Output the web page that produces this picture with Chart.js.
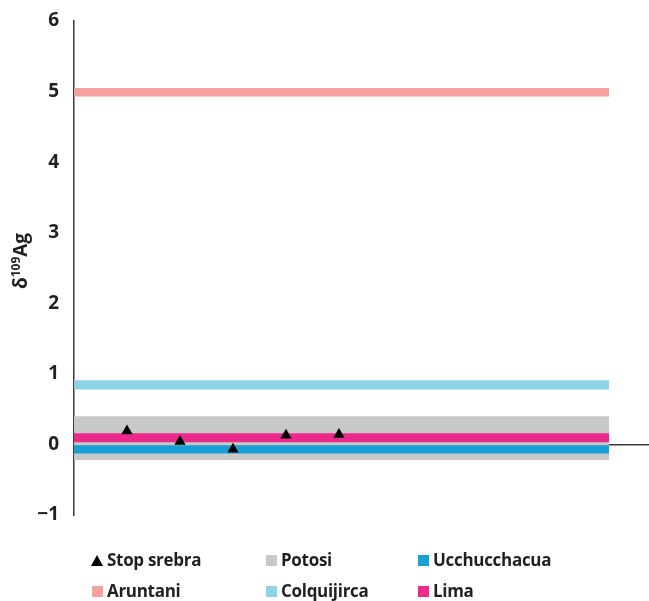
<!DOCTYPE html>
<html>
<head>
<meta charset="utf-8">
<script src="https://cdn.jsdelivr.net/npm/chart.js@4.4.1/dist/chart.umd.min.js"></script>
<style>
  html, body { margin: 0; padding: 0; background: #fff; }
  #wrap { position: relative; width: 649px; height: 601px; overflow: hidden; }
  #chart { position: absolute; left: 0; top: 0; }
  .lg { position: absolute; font: bold 17px "Open Sans", sans-serif; color: #231f20; white-space: nowrap; line-height: 20px; letter-spacing: -0.3px; }
  .sw { position: absolute; width: 11px; height: 11px; }
  .tri { position: absolute; width: 0; height: 0; border-left: 6.5px solid transparent; border-right: 6.5px solid transparent; border-bottom: 11px solid #000; }
</style>
</head>
<body>
<div id="wrap">
  <canvas id="chart" width="649" height="601"></canvas>
</div>
<script>
// --- données ---
const sampleX = [1, 2, 3, 4, 5];
const stopSrebra = [0.19, 0.04, -0.07, 0.13, 0.14];

const bandNames = ['Potosi', 'Lima', 'Ucchucchacua', 'Aruntani', 'Colquijirca'];
const bandLow   = [-0.22, 0.03, -0.13, 4.93, 0.78];
const bandHigh  = [0.40, 0.16, -0.01, 5.05, 0.91];
const bandStart = 0;
const bandEnd = 10.1;

const yMin = -1;
const yMax = 6;
const xMax = 10.85;

// --- styles ---
const INK = '#231f20';
const AXIS = '#3a3a3a';
const FONT = '"Open Sans", sans-serif';
const COLORS = {
  'Stop srebra': '#000000',
  Potosi: '#c8c8c8',
  Lima: '#ec2a8c',
  Ucchucchacua: '#189fd6',
  Aruntani: '#f5a19d',
  Colquijirca: '#8dd3ec',
};

const datasets = [{
  type: 'scatter',
  label: 'Stop srebra',
  data: sampleX.map((x, i) => ({ x, y: stopSrebra[i] })),
  pointStyle: 'triangle',
  pointRadius: 6.5,
  backgroundColor: COLORS['Stop srebra'],
  borderColor: COLORS['Stop srebra'],
  borderWidth: 0,
  order: 0,
}];

bandNames.forEach((name, i) => {
  datasets.push({
    type: 'line',
    label: name,
    data: [{ x: bandStart, y: bandHigh[i] }, { x: bandEnd, y: bandHigh[i] }],
    fill: { value: bandLow[i] },
    backgroundColor: COLORS[name],
    borderWidth: 0,
    pointRadius: 0,
    order: name === 'Potosi' ? 9 : 2,
  });
});

// titre de l'axe Y : δ + 109 en exposant + Ag
const yTitle = {
  id: 'yTitle',
  afterDraw(chart) {
    const { ctx } = chart;
    ctx.save();
    ctx.translate(27, 261);
    ctx.rotate(-Math.PI / 2);
    ctx.fillStyle = INK;
    ctx.textBaseline = 'alphabetic';
    const big = 'bold 19px ' + FONT;
    const small = 'bold 12px ' + FONT;
    ctx.font = big;
    const w1 = ctx.measureText('δ').width;
    const w3 = ctx.measureText('Ag').width;
    ctx.font = small;
    const w2 = ctx.measureText('109').width;
    let x = -(w1 + w2 + w3) / 2;
    ctx.font = big;
    ctx.fillText('δ', x, 0);
    x += w1;
    ctx.font = small;
    ctx.fillText('109', x, -7);
    x += w2;
    ctx.font = big;
    ctx.fillText('Ag', x, 0);
    ctx.restore();
  },
};

// pas de marge auto autour des axes : la zone du graphe suit layout.padding
function noScalePadding(scale) {
  scale.paddingTop = 0;
  scale.paddingBottom = 0;
  scale.paddingLeft = 0;
  scale.paddingRight = 0;
}

const chart = new Chart(document.getElementById('chart'), {
  data: { datasets },
  options: {
    responsive: false,
    animation: false,
    layout: { autoPadding: false, padding: { top: 21, bottom: 86, left: 0, right: 0 } },
    plugins: { legend: { display: false }, tooltip: { enabled: false } },
    scales: {
      x: {
        type: 'linear',
        min: 0,
        max: xMax,
        position: { y: 0 },
        z: 1,
        afterFit: noScalePadding,
        grid: { display: false, drawTicks: false },
        ticks: { display: false },
        border: { display: true, color: AXIS, width: 1.5 },
      },
      y: {
        type: 'linear',
        min: yMin,
        max: yMax,
        z: 1,
        afterFit(scale) {
          noScalePadding(scale);
          scale.width = 74;
        },
        grid: { display: false, drawTicks: false },
        border: { display: true, color: AXIS, width: 1.5 },
        ticks: {
          stepSize: 1,
          padding: 15,
          color: INK,
          font: { family: FONT, size: 19, weight: 'bold' },
          callback: v => (v < 0 ? '\u2212' + Math.abs(v) : String(v)),
        },
      },
    },
  },
  plugins: [yTitle],
});

// légende HTML, 3 colonnes x 2 lignes
const legendRows = [
  ['Stop srebra', 'Potosi', 'Ucchucchacua'],
  ['Aruntani', 'Colquijirca', 'Lima'],
];
const colX = [92, 266, 418];
const rowY = [561, 592];
const wrap = document.getElementById('wrap');
legendRows.forEach((row, r) => {
  row.forEach((name, c) => {
    const mark = document.createElement('div');
    if (name === 'Stop srebra') {
      mark.className = 'tri';
      mark.style.left = (colX[c] - 1) + 'px';
      mark.style.top = (rowY[r] - 6) + 'px';
    } else {
      mark.className = 'sw';
      mark.style.left = colX[c] + 'px';
      mark.style.top = (rowY[r] - 6) + 'px';
      mark.style.background = COLORS[name];
    }
    wrap.appendChild(mark);
    const t = document.createElement('div');
    t.className = 'lg';
    t.textContent = name;
    t.style.left = (colX[c] + 15) + 'px';
    t.style.top = (rowY[r] - 11) + 'px';
    wrap.appendChild(t);
  });
});
</script>
</body>
</html>
